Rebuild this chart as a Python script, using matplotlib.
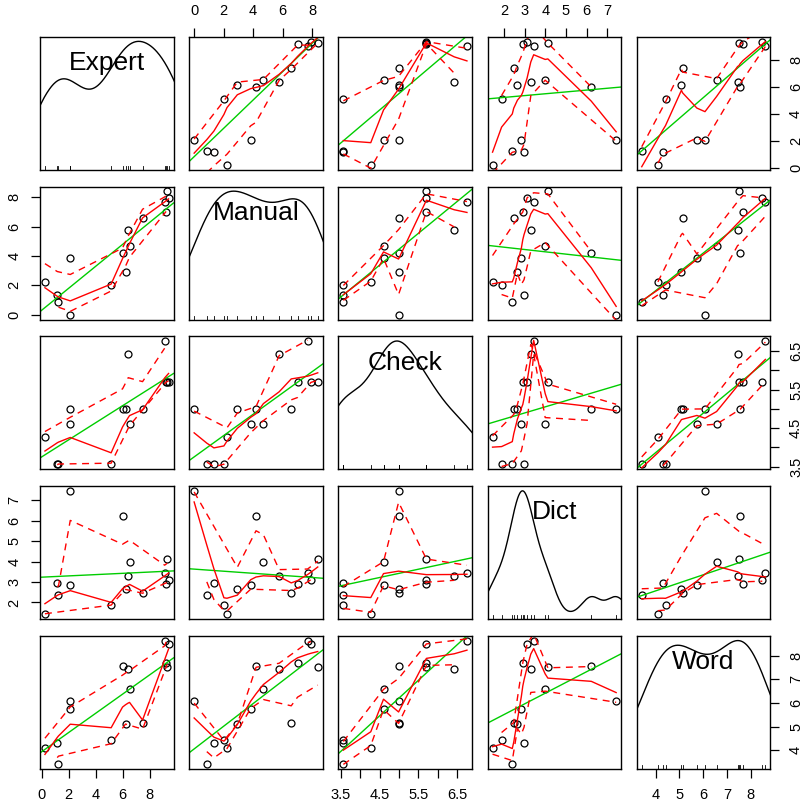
import numpy as np
import matplotlib
matplotlib.use('Agg')  # no display
import matplotlib.pyplot as plt

plt.rcParams['font.family'] = ['Liberation Sans', 'DejaVu Sans']

var_names = ["Expert", "Manual", "Check", "Dict", "Word"]
expert = [0.25, 1.16, 1.25, 2.12, 2.12, 5.14, 5.98, 6.20, 6.40, 6.50, 7.46, 9.09, 9.20, 9.28, 9.38]
manual = [2.23, 1.34, 0.86, 3.84, 0.00, 2.02, 4.20, 2.93, 5.77, 4.70, 6.59, 7.70, 7.02, 8.39, 7.93]
check = [4.27, 3.56, 3.56, 4.60, 4.99, 3.56, 4.99, 4.99, 6.43, 4.60, 4.99, 6.76, 5.71, 5.71, 5.71]
dict_ = [1.43, 2.96, 2.39, 2.83, 7.44, 1.87, 6.23, 2.64, 3.29, 3.99, 2.46, 3.43, 2.90, 4.12, 3.11]
word = [4.10, 4.31, 3.42, 5.74, 6.08, 4.42, 7.56, 5.09, 7.45, 6.57, 5.14, 8.62, 7.68, 7.51, 8.49]

# axis ticks and which of them get a label
tick_pos = {
    "Expert": [0, 2, 4, 6, 8],
    "Manual": [0, 2, 4, 6, 8],
    "Check": [3.5, 4.0, 4.5, 5.0, 5.5, 6.0, 6.5],
    "Dict": [2, 3, 4, 5, 6, 7],
    "Word": [4, 5, 6, 7, 8],
}
tick_lab = {
    "Expert": ["0", "2", "4", "6", "8"],
    "Manual": ["0", "2", "4", "6", "8"],
    "Check": ["3.5", "", "4.5", "", "5.5", "", "6.5"],
    "Dict": ["2", "3", "4", "5", "6", "7"],
    "Word": ["4", "5", "6", "7", "8"],
}

data = {"Expert": np.array(expert), "Manual": np.array(manual),
        "Check": np.array(check), "Dict": np.array(dict_), "Word": np.array(word)}

GREEN = "#00cd00"
RED = "#ff0000"
SPAN = 0.5
CELL = 0.2


def tricube(u):
    u = np.clip(np.abs(u), 0, 1)
    return (1 - u ** 3) ** 3


def kd_vertices(xs, fc):
    # 1-d version of the kd tree loess uses for surface="interpolate"
    n = len(xs)
    rng = xs[-1] - xs[0]
    mu = 0.005 * max(rng, 1e-10 * max(abs(xs[0]), abs(xs[-1])) + 1e-30)
    lo, hi = xs[0] - mu, xs[-1] + mu
    verts = [lo, hi]
    stack = [(0, n - 1, lo, hi)]
    while stack:
        l, u, vlo, vhi = stack.pop()
        if u < l or u - l + 1 <= fc:
            continue
        m = (l + u) // 2
        off = 0
        while True:
            mm = m + off
            if mm >= u or mm < l:
                break
            if xs[mm] == xs[mm + 1]:
                off = -off
                if off >= 0:
                    off += 1
            else:
                m = mm
                break
        split = xs[m]
        if split == vlo or split == vhi:
            continue
        verts.append(split)
        stack.append((l, m, vlo, split))
        stack.append((m + 1, u, split, vhi))
    return np.unique(verts)


def local_fit(x, y, wr, x0, q, degree):
    d = np.abs(x - x0)
    h = np.sort(d)[q - 1]
    if h <= 0:
        h = 1e-9
    w = tricube(d / h) * wr
    deg = min(degree, int(np.sum(w > 0)) - 1)
    if deg <= 0:
        return np.sum(w * y) / max(np.sum(w), 1e-12), 0.0
    X = np.column_stack([(x - x0) ** k for k in range(deg + 1)])
    sw = np.sqrt(w)
    beta = np.linalg.lstsq(X * sw[:, None], y * sw, rcond=None)[0]
    return beta[0], beta[1]


def hermite(verts, vals, slopes, xq):
    idx = np.clip(np.searchsorted(verts, xq, side='right') - 1, 0, len(verts) - 2)
    v0 = verts[idx]
    hh = verts[idx + 1] - v0
    t = (xq - v0) / hh
    phi0 = (1 - t) ** 2 * (1 + 2 * t)
    phi1 = t ** 2 * (3 - 2 * t)
    psi0 = t * (1 - t) ** 2
    psi1 = t ** 2 * (t - 1)
    return (phi0 * vals[idx] + phi1 * vals[idx + 1]
            + (psi0 * slopes[idx] + psi1 * slopes[idx + 1]) * hh)


def loess(x, y, span=SPAN, degree=1, iterations=4):
    # x sorted; mimics R loess(family="symmetric") with interpolated surface
    n = len(x)
    q = min(max(int(np.floor(n * span + 1e-5)), 1), n)
    fc = int(np.floor(n * span * CELL))
    verts = kd_vertices(x, fc)
    robust = np.ones(n)
    fitted = np.zeros(n)
    for it in range(iterations):
        vv = np.array([local_fit(x, y, robust, v, q, degree) for v in verts])
        fitted = hermite(verts, vv[:, 0], vv[:, 1], x)
        res = y - fitted
        if it < iterations - 1:
            cmad = 6 * np.median(np.abs(res))
            if cmad <= 0:
                break
            r = np.abs(res) / cmad
            robust = np.where(r <= 0.001, 1.0, np.where(r > 0.999, 0.0, (1 - r ** 2) ** 2))
    return fitted, y - fitted


def density_curve(x):
    # gaussian kde with bw.nrd0, scaled into the data range like car does
    n = len(x)
    sd = np.std(x, ddof=1)
    iqr = np.subtract(*np.percentile(x, [75, 25]))
    bw = 0.9 * min(sd, iqr / 1.34) * n ** -0.2
    grid = np.linspace(x.min() - 3 * bw, x.max() + 3 * bw, 512)
    dens = np.exp(-0.5 * ((grid[:, None] - x[None, :]) / bw) ** 2).sum(axis=1)
    dens = dens / (n * bw * np.sqrt(2 * np.pi))
    yy = x.min() + dens * (x.max() - x.min()) / (dens.max() - dens.min())
    return grid, yy


def lims(v):
    r = v.max() - v.min()
    return v.min() - 0.04 * r, v.max() + 0.04 * r


W, H = 806, 809
fig = plt.figure(figsize=(W / 100, H / 100), dpi=100)

left0, col_step, pw = 40.0, 149.2, 133.5
top0, row_step, ph = 36.7, 149.8, 133.0

nv = len(var_names)
for i, yname in enumerate(var_names):
    for j, xname in enumerate(var_names):
        l = left0 + j * col_step
        t = top0 + i * row_step
        ax = fig.add_axes([l / W, 1 - (t + ph) / H, pw / W, ph / H])
        xv = data[xname]
        yv = data[yname]
        ax.set_xlim(*lims(xv))
        ax.set_ylim(*lims(yv))

        if i == j:
            gx, gy = density_curve(xv)
            ax.plot(gx, gy, color="black", lw=1.0)
            # rug
            for v in xv:
                ax.plot([v, v], [0, 0.03], color="black", lw=0.6,
                        transform=ax.get_xaxis_transform())
            ax.text(0.5, 0.75, xname, transform=ax.transAxes, ha="center",
                    va="baseline", fontsize=19)
        else:
            ax.plot(xv, yv, 'o', ms=5, mfc='none', mec='black', mew=0.9)
            # least squares line across the whole panel
            b, a = np.polyfit(xv, yv, 1)
            xl = np.array(ax.get_xlim())
            ax.plot(xl, a + b * xl, color=GREEN, lw=1.0)
            # loess smoother with spread (spread fits are not robustified)
            order = np.argsort(xv, kind="stable")
            xs, ys = xv[order], yv[order]
            fit, res = loess(xs, ys)
            ax.plot(xs, fit, color=RED, lw=1.0)
            pos = res > 0
            neg = ~pos
            if pos.sum() > 1:
                pf, _ = loess(xs[pos], res[pos] ** 2, degree=0, iterations=1)
                ax.plot(xs[pos], fit[pos] + np.sqrt(np.maximum(pf, 0)), color=RED,
                        lw=1.0, dashes=(5, 4))
            if neg.sum() > 1:
                nf, _ = loess(xs[neg], res[neg] ** 2, degree=0, iterations=1)
                ax.plot(xs[neg], fit[neg] - np.sqrt(np.maximum(nf, 0)), color=RED,
                        lw=1.0, dashes=(5, 4))

        for s in ax.spines.values():
            s.set_linewidth(1.0)

        # outer axes alternate like R's pairs()
        show_top = (i == 0 and j % 2 == 1)
        show_bottom = (i == nv - 1 and j % 2 == 0)
        show_left = (j == 0 and i % 2 == 1)
        show_right = (j == nv - 1 and i % 2 == 0)

        if show_top or show_bottom:
            ax.set_xticks(tick_pos[xname])
            ax.set_xticklabels(tick_lab[xname])
        else:
            ax.set_xticks([])
        if show_left or show_right:
            ax.set_yticks(tick_pos[yname])
            ax.set_yticklabels(tick_lab[yname])
        else:
            ax.set_yticks([])

        ax.tick_params(axis='x', direction='out', length=6.5, width=0.9, pad=7,
                       labelsize=10.5, top=show_top, labeltop=show_top,
                       bottom=show_bottom, labelbottom=show_bottom)
        ax.tick_params(axis='y', direction='out', length=6.5, width=0.9, pad=7,
                       labelsize=10.5, left=show_left, labelleft=show_left,
                       right=show_right, labelright=show_right)
        for lab in ax.get_yticklabels():
            lab.set_rotation(90)
            lab.set_va('center')

fig.savefig("out.png", dpi=100)
plt.close(fig)
